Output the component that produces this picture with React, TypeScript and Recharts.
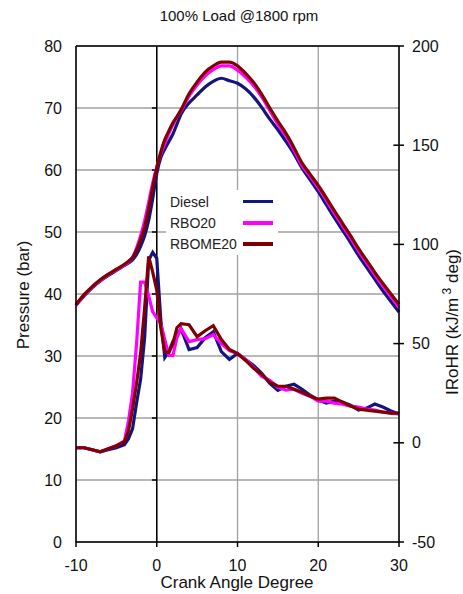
import React from "react";
import {
  LineChart,
  Line,
  XAxis,
  YAxis,
  CartesianGrid,
  ReferenceLine,
  Legend,
} from "recharts";

// crank angle (deg), finer steps around the start of combustion
const crankAngle = [
  -10, -9, -8, -7, -6, -5, -4, -3.5, -3, -2.5, -2, -1.5, -1, -0.5, 0, 0.5, 1,
  1.5, 2, 2.5, 3, 4, 5, 6, 7, 8, 9, 10, 11, 12, 13, 14, 15, 16, 17, 18, 19, 20,
  21, 22, 23, 24, 25, 26, 27, 28, 29, 30,
];

// cylinder pressure (bar)
const pressureDiesel = [
  38.2, 39.7, 41.0, 42.1, 43.0, 43.8, 44.6, 45.0, 45.5, 46.4, 47.7, 49.4, 51.9,
  55.4, 59.4, 62.0, 63.4, 64.6, 65.8, 67.4, 69.0, 70.8, 72.1, 73.4, 74.3, 74.8,
  74.4, 74.0, 73.1, 71.8, 70.1, 68.2, 66.5, 64.6, 62.6, 60.3, 58.4, 56.5, 54.4,
  52.3, 50.3, 48.3, 46.2, 44.3, 42.4, 40.5, 38.8, 37.1,
];
const pressureRbo = [
  38.2, 39.8, 41.1, 42.2, 43.1, 43.9, 44.7, 45.2, 45.9, 47.4, 49.4, 51.8, 54.8,
  57.9, 60.5, 62.6, 64.3, 65.9, 67.3, 68.5, 69.5, 71.9, 73.7, 75.2, 76.2, 76.8,
  76.8, 76.1, 75.0, 73.6, 71.8, 69.6, 67.4, 65.5, 63.2, 60.7, 59.0, 57.1, 55.1,
  53.0, 51.0, 49.0, 46.9, 45.0, 43.1, 41.3, 39.6, 37.8,
];
const pressureRbome = [
  38.3, 39.9, 41.2, 42.3, 43.2, 44.0, 44.8, 45.3, 45.9, 47.1, 48.8, 50.8, 53.8,
  57.2, 60.3, 62.9, 64.9, 66.3, 67.6, 68.6, 69.7, 72.3, 74.2, 75.8, 76.8, 77.4,
  77.4, 76.8, 75.6, 74.1, 72.2, 70.0, 67.9, 65.9, 63.6, 61.1, 59.3, 57.5, 55.5,
  53.4, 51.4, 49.4, 47.3, 45.4, 43.5, 41.7, 40.0, 38.3,
];

// instantaneous rate of heat release (kJ/m3 deg)
const rohrDiesel = [
  -2.5, -2.5, -3.5, -4.5, -3.5, -2.5, -1, 2, 7, 20, 32, 53, 92, 96, 93, 62, 43,
  46, 51, 54, 57.5, 47, 48, 53, 56, 46, 42, 45, 42, 39, 35, 30, 26.5, 28.5,
  29.5, 27, 24, 21.5, 20, 21, 20.5, 19, 16.5, 17.5, 19.5, 18, 16, 14.5,
];
const rohrRbo = [
  -2.5, -2.5, -3.5, -4.5, -3, -1.5, 1, 11, 25, 50, 81, 81, 74, 66, 63, 60, 52,
  44, 44, 53, 57.5, 51, 52, 52.5, 54.5, 50, 46.5, 45, 42, 38, 33.5, 31.5, 28,
  26.5, 27, 25, 23.5, 21, 21, 20, 19.5, 18.5, 18, 17, 16.5, 15.5, 15, 14.5,
];
const rohrRbome = [
  -2.5, -2.5, -3.5, -4.5, -3, -1.5, 0.5, 6, 17, 30, 45, 68, 94, 86, 77, 58, 46,
  45.5, 50, 58, 60, 59.5, 53.5, 56.5, 59, 52, 47, 45, 41.5, 37.5, 34.5, 30.5,
  28.5, 28.5, 27, 25.5, 23.5, 22, 22.5, 22.5, 20.5, 18.5, 17, 16.5, 16, 15.5,
  15, 15,
];

const angleTicks = [-10, 0, 10, 20, 30];
const pressureTicks = [0, 10, 20, 30, 40, 50, 60, 70, 80];
const rohrTicks = [-50, 0, 50, 100, 150, 200];

const FONT = '"Liberation Sans", Arial, sans-serif';
const DIESEL = "#14147f";
const RBO = "#ff00ff";
const RBOME = "#800000";

const rows = crankAngle.map((x, i) => ({
  x,
  pDiesel: pressureDiesel[i],
  pRbo: pressureRbo[i],
  pRbome: pressureRbome[i],
  hDiesel: rohrDiesel[i],
  hRbo: rohrRbo[i],
  hRbome: rohrRbome[i],
}));

function FuelLegend({ payload }: any) {
  // only the pressure lines carry a legend entry
  const items = (payload || []).filter((e: any) => e.type !== "none");
  return (
    <div
      style={{
        background: "#fff",
        padding: "1px 0 0 4px",
        fontFamily: FONT,
        fontSize: 14,
        color: "#222",
      }}
    >
      {items.map((e: any) => (
        <div
          key={e.value}
          style={{ display: "flex", alignItems: "center", height: 21.3 }}
        >
          <span style={{ width: 73 }}>{e.value}</span>
          <span style={{ width: 30, height: 3.5, background: e.color }} />
        </div>
      ))}
    </div>
  );
}

export default function App() {
  const line = (key: string, axis: string, color: string, name?: string) => (
    <Line
      key={key}
      type={axis === "p" ? "monotone" : "linear"}
      dataKey={key}
      yAxisId={axis}
      name={name}
      stroke={color}
      strokeWidth={3.2}
      dot={false}
      activeDot={false}
      legendType={name ? "line" : "none"}
      isAnimationActive={false}
    />
  );

  return (
    <div style={{ position: "absolute", left: 0, top: 0, width: 463, height: 594, background: "#fff" }}>
      <LineChart
        width={463}
        height={594}
        data={rows}
        margin={{ top: 46, right: 0, bottom: 0, left: 0 }}
      >
        <CartesianGrid yAxisId="p" stroke="#a0a0a0" strokeWidth={1.3} />
        <XAxis
          dataKey="x"
          type="number"
          domain={[-10, 30]}
          ticks={angleTicks}
          height={52}
          tickSize={5}
          tickMargin={13}
          axisLine={{ stroke: "#000", strokeWidth: 1.5 }}
          tickLine={{ stroke: "#000", strokeWidth: 1.5 }}
          tick={{ fill: "#111", fontSize: 16, fontFamily: FONT }}
        />
        <YAxis
          yAxisId="p"
          domain={[0, 80]}
          ticks={pressureTicks}
          width={76}
          tickSize={0}
          tickMargin={14}
          tickLine={false}
          axisLine={{ stroke: "#000", strokeWidth: 1.5 }}
          tick={{ fill: "#111", fontSize: 16, fontFamily: FONT }}
        />
        <YAxis
          yAxisId="r"
          orientation="right"
          domain={[-50, 200]}
          ticks={rohrTicks}
          width={64}
          tickSize={5}
          tickMargin={8}
          axisLine={{ stroke: "#000", strokeWidth: 1.5 }}
          tickLine={{ stroke: "#000", strokeWidth: 1.5 }}
          tick={{ fill: "#111", fontSize: 16, fontFamily: FONT }}
        />
        <ReferenceLine yAxisId="p" y={80} stroke="#000" strokeWidth={1.5} />
        <ReferenceLine yAxisId="p" x={0} stroke="#000" strokeWidth={1.5} />
        {pressureTicks.slice(1, -1).map((v) => (
          <ReferenceLine
            key={"pt" + v}
            yAxisId="p"
            segment={[{ x: -0.6, y: v }, { x: 0, y: v }]}
            stroke="#000"
            strokeWidth={1.5}
          />
        ))}
        {rohrTicks.slice(1, -1).map((v) => (
          <ReferenceLine
            key={"rt" + v}
            yAxisId="r"
            segment={[{ x: 29.3, y: v }, { x: 30, y: v }]}
            stroke="#000"
            strokeWidth={1.5}
          />
        ))}
        {line("pDiesel", "p", DIESEL, "Diesel")}
        {line("pRbo", "p", RBO, "RBO20")}
        {line("pRbome", "p", RBOME, "RBOME20")}
        {line("hDiesel", "r", DIESEL)}
        {line("hRbo", "r", RBO)}
        {line("hRbome", "r", RBOME)}
        <Legend
          layout="vertical"
          align="center"
          verticalAlign="middle"
          content={<FuelLegend />}
          wrapperStyle={{ left: 166, top: 190, width: 112, height: 66 }}
        />
      </LineChart>
      <svg
        width={463}
        height={594}
        style={{ position: "absolute", left: 0, top: 0, pointerEvents: "none" }}
        fontFamily={FONT}
        fill="#111"
      >
        <text x={239} y={21} textAnchor="middle" fontSize={15}>
          100% Load @1800 rpm
        </text>
        <text x={237} y={588} textAnchor="middle" fontSize={17}>
          Crank Angle Degree
        </text>
        <text transform="translate(29,295) rotate(-90)" textAnchor="middle" fontSize={17}>
          Pressure (bar)
        </text>
        <text transform="translate(458,322) rotate(-90)" textAnchor="middle" fontSize={17}>
          IRoHR (kJ/m
          <tspan dy={-7} fontSize={12}> 3</tspan>
          <tspan dy={7}> deg)</tspan>
        </text>
      </svg>
    </div>
  );
}
